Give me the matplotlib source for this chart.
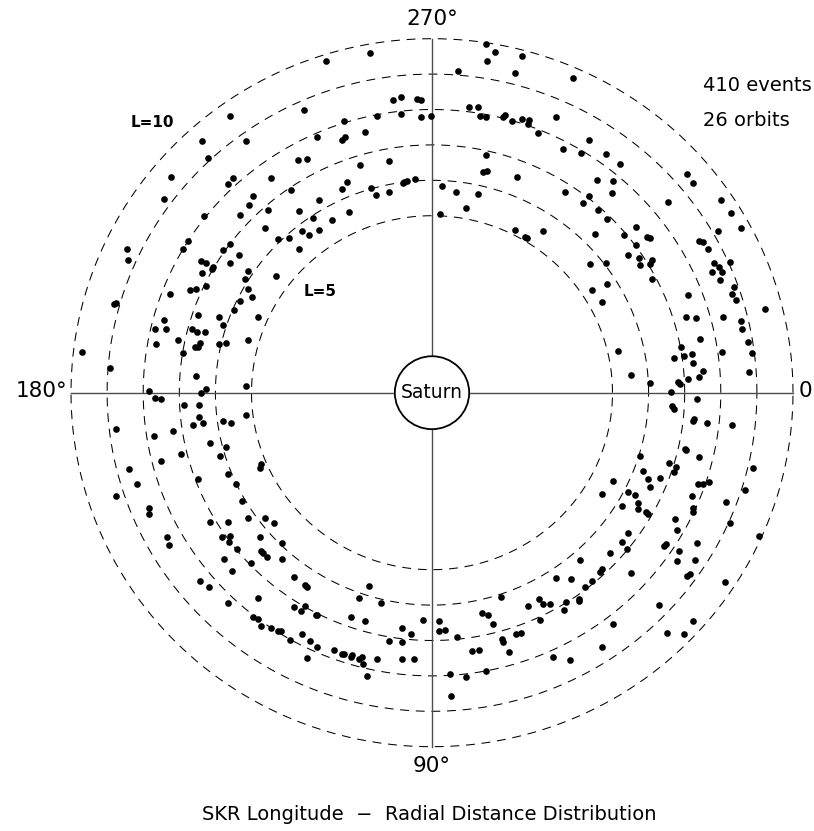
import numpy as np
import matplotlib
matplotlib.use("Agg")
import matplotlib.pyplot as plt
from matplotlib.patches import Circle

# SKR events: longitude in degrees (0 at right, increasing clockwise) and L
lon_top_left = [234.4, 228.1, 234.1, 246.1, 226.9, 240.6, 242.3, 220.2, 226.2, 227.8,
                233.6, 235.7, 216.4, 228.3, 226.3, 228.7, 234.2, 218.3, 223.4, 225.1,
                231.7, 232.7, 225.6, 227.8, 227.7, 205.6, 204.0, 212.3, 210.5, 217.0,
                214.8, 216.2, 210.3, 210.3, 209.7, 210.4, 208.0, 213.2, 214.0]
L_top_left = [9.62, 9.55, 8.79, 8.75, 9.08, 7.55, 7.46, 9.46, 8.17, 8.19,
              7.53, 6.92, 9.22, 7.44, 7.34, 6.88, 6.32, 8.04, 7.31, 6.56,
              5.82, 5.61, 6.08, 5.88, 5.49, 9.38, 9.21, 8.01, 7.99, 7.00,
              7.06, 6.61, 7.40, 7.25, 7.03, 7.03, 7.22, 6.69, 6.15]

lon_top = [252.6, 259.9, 278.7, 280.3, 279.2, 284.7, 274.5, 284.2, 262.6, 264.1,
           267.1, 267.9, 258.9, 263.8, 267.8, 269.7, 252.3, 246.2, 250.7, 251.6,
           255.9, 277.3, 278.9, 279.7, 280.9, 284.2, 284.4, 286.1, 287.9, 289.3,
           289.3, 291.8, 293.8, 259.7, 252.8, 282.5, 282.9, 283.7, 291.0, 248.4,
           246.6, 240.2, 253.7, 254.4, 258.2, 262.6, 263.3, 262.3, 265.5, 272.7,
           276.6, 282.7, 280.3, 272.5, 245.8, 240.5, 236.2, 235.8, 296.6, 300.3,
           301.0, 304.0]
L_top = [9.82, 9.75, 9.97, 9.78, 9.50, 9.82, 9.12, 9.33, 8.33, 8.39,
         8.31, 8.26, 7.97, 7.93, 7.78, 7.81, 8.05, 7.90, 7.57, 7.61,
         7.60, 8.14, 8.17, 7.92, 7.93, 8.03, 8.10, 7.99, 8.13, 8.16,
         8.04, 7.91, 8.51, 6.65, 6.72, 6.89, 6.39, 6.46, 6.54, 6.40,
         6.27, 6.28, 6.02, 5.81, 5.78, 6.01, 6.03, 5.98, 6.05, 5.85,
         5.72, 5.75, 5.31, 5.05, 5.60, 5.61, 5.93, 5.57, 5.14, 5.10,
         5.10, 5.52]

lon_top_right = [293.8, 301.3, 297.8, 301.4, 305.5, 308.8, 307.3, 309.9, 311.6, 303.1,
                 308.1, 308.0, 311.6, 314.7, 318.8, 320.6, 320.6, 325.8, 328.5, 331.4,
                 330.0, 315.1, 320.0, 320.4, 323.6, 324.1, 323.5, 324.4, 326.4, 328.0,
                 328.4, 329.0, 320.2, 322.8, 329.9, 330.4, 332.1, 334.9, 336.0, 337.0,
                 336.3, 335.9]
L_top_right = [9.71, 8.36, 7.78, 7.92, 8.29, 8.30, 7.56, 7.80, 7.53, 6.77,
               7.07, 6.79, 6.91, 6.89, 9.38, 9.35, 8.47, 9.68, 9.70, 9.74,
               9.14, 6.36, 6.95, 7.34, 7.41, 7.45, 7.02, 6.67, 6.88, 6.81,
               7.16, 7.05, 5.68, 6.06, 8.55, 8.63, 8.65, 8.63, 8.70, 8.73,
               8.48, 9.05]

lon_left = [211.7, 217.3, 209.9, 208.5, 206.0, 205.7, 204.2, 203.4, 201.1, 195.9,
            196.1, 203.1, 203.9, 198.6, 200.0, 198.3, 195.5, 193.3, 193.7, 195.1,
            194.8, 195.3, 191.9, 190.2, 192.3, 191.1, 191.3, 189.2, 193.1, 193.7,
            196.2, 186.7, 184.4, 184.1, 182.2, 180.3, 178.9, 178.6, 179.8, 181.0,
            177.0, 176.8, 173.9, 172.1, 172.3, 172.2, 171.3, 172.9, 173.3, 171.0,
            171.4, 167.0, 164.9, 166.0, 165.6, 163.0, 156.9, 155.9, 165.6, 162.5,
            159.4, 157.8, 154.6, 161.6, 149.8, 157.5, 156.4, 149.3, 147.1, 145.1,
            142.5, 139.8]
L_left = [6.09, 5.43, 5.89, 5.68, 5.92, 6.94, 7.17, 7.29, 7.77, 9.15,
          9.11, 5.97, 5.26, 6.85, 6.29, 6.09, 7.71, 7.88, 7.59, 6.90,
          6.73, 6.53, 7.20, 7.76, 6.57, 6.69, 6.60, 7.00, 6.06, 5.87,
          5.30, 9.75, 8.94, 6.56, 5.16, 7.85, 7.67, 7.51, 6.39, 6.25,
          6.89, 6.46, 6.50, 6.68, 6.41, 5.84, 5.63, 5.20, 8.81, 7.80,
          7.27, 6.32, 5.90, 7.17, 7.74, 6.13, 5.15, 5.23, 8.67, 8.56,
          6.93, 6.10, 6.02, 9.23, 6.08, 8.49, 8.57, 7.14, 6.74, 6.20,
          5.82, 5.72]

lon_right = [332.2, 338.3, 327.5, 326.7, 331.5, 338.7, 340.4, 341.5, 342.7, 345.7,
             343.1, 343.9, 345.1, 346.7, 348.1, 348.4, 350.7, 352.8, 347.2, 349.4,
             351.6, 351.5, 351.3, 353.3, 351.9, 356.2, 354.7, 357.4, 357.4, 357.9,
             356.9, 356.5, 355.4, 359.9, 1.4, 3.3, 3.9, 6.4, 5.8, 6.4,
             6.3, 12.7, 13.0, 13.7, 17.3, 16.8, 17.2, 18.4, 20.8, 22.1,
             20.9, 23.7, 26.4, 13.4, 19.2, 18.9, 18.2, 17.6, 31.3, 27.3,
             27.2, 28.6, 31.4, 30.0, 29.6, 29.8, 22.1, 24.3, 25.0, 20.8,
             27.9, 24.0]
L_right = [6.90, 8.58, 5.74, 5.30, 5.36, 7.61, 8.88, 8.77, 8.83, 9.53,
           7.35, 7.62, 8.35, 8.79, 8.79, 7.57, 8.88, 8.93, 5.29, 7.02,
           6.77, 7.05, 7.28, 7.27, 8.12, 8.79, 5.53, 6.04, 6.81, 6.87,
           7.11, 7.41, 7.53, 6.63, 7.34, 6.66, 6.71, 7.28, 7.30, 7.66,
           8.35, 7.19, 7.23, 7.61, 6.03, 6.85, 7.08, 7.07, 6.24, 6.46,
           6.76, 6.61, 5.61, 9.13, 7.80, 7.94, 8.07, 9.11, 5.50, 6.10,
           6.33, 6.50, 6.16, 6.58, 6.82, 6.88, 7.77, 7.93, 7.98, 8.70,
           7.61, 9.05]

lon_bottom_left = [150.9, 149.5, 144.9, 144.1, 143.2, 140.8, 139.4, 134.5, 140.9, 137.7,
                   136.2, 136.7, 136.0, 134.5, 131.4, 140.4, 138.4, 133.6, 129.7, 126.3,
                   122.9, 122.3, 122.3, 120.3, 120.5, 128.1, 127.0, 125.7, 123.9, 122.3,
                   121.9, 119.4, 117.9, 115.6, 114.8]
L_bottom_left = [8.41, 8.45, 7.10, 6.91, 7.03, 6.98, 6.28, 5.94, 7.43, 7.50,
                 6.96, 6.52, 6.52, 6.51, 6.27, 8.34, 8.27, 8.21, 7.55, 6.46,
                 6.47, 6.50, 7.16, 6.99, 7.16, 8.05, 8.01, 8.10, 8.01, 7.96,
                 7.93, 8.03, 7.70, 7.79, 8.27]

lon_bottom = [107.7, 109.3, 103.3, 117.2, 116.8, 109.4, 106.1, 113.9, 110.5, 108.7,
              108.2, 106.8, 106.6, 105.0, 104.5, 104.0, 102.7, 101.4, 99.7, 97.1,
              94.9, 96.7, 96.3, 93.7, 92.3, 88.2, 88.3, 86.9, 84.2, 86.4,
              83.4, 86.5, 81.4, 79.8, 79.2, 77.5, 76.2, 75.5, 74.4, 74.5,
              73.8, 71.2, 70.0, 71.7, 66.1, 63.0, 62.7, 61.2, 65.0, 56.7,
              65.9]
L_bottom = [5.73, 6.14, 6.11, 7.06, 7.04, 6.72, 6.71, 7.86, 7.77, 7.78,
            7.77, 7.81, 7.73, 7.79, 7.71, 7.90, 8.20, 7.68, 7.12, 6.70,
            6.84, 7.08, 7.58, 7.55, 6.44, 6.45, 6.73, 6.71, 6.93, 7.97,
            8.09, 8.58, 7.38, 7.39, 8.00, 6.38, 6.46, 6.75, 7.23, 7.32,
            7.64, 7.21, 7.22, 6.07, 6.58, 6.53, 6.73, 6.80, 7.09, 6.27,
            8.19]

lon_bottom_right = [36.0, 38.7, 39.3, 42.6, 49.1, 46.7, 47.4, 42.7, 53.9, 50.2,
                    52.2, 55.1, 55.3, 57.9, 59.3, 52.5, 56.7, 63.1, 29.8, 34.0,
                    33.5, 33.1, 30.1, 35.1, 33.0, 36.2, 35.6, 33.4, 24.1, 43.7,
                    41.7, 46.2, 44.3]
L_bottom_right = [6.72, 6.75, 6.98, 6.70, 6.26, 6.85, 6.89, 7.51, 6.52, 6.93,
                  6.93, 7.11, 7.17, 6.99, 7.15, 8.25, 8.60, 8.48, 7.82, 7.76,
                  7.76, 8.18, 8.47, 8.29, 8.69, 8.75, 8.79, 9.71, 9.92, 8.69,
                  9.68, 9.41, 9.76]

ring_levels = [5, 6, 7, 8, 9, 10]
n_events = 410
n_orbits = 26

lon = np.radians(np.concatenate([lon_top_left, lon_top, lon_top_right, lon_left,
                                 lon_right, lon_bottom_left, lon_bottom, lon_bottom_right]))
L = np.concatenate([L_top_left, L_top, L_top_right, L_left,
                    L_right, L_bottom_left, L_bottom, L_bottom_right])

W, H = 814, 831
fig = plt.figure(figsize=(W / 100, H / 100), dpi=100)
ax = fig.add_axes([0, 0, 1, 1])
# slightly squashed vertical scale, like the original device
ax.set_xlim(-11.967, 10.582)
ax.set_ylim(-12.381, 11.093)
ax.axis('off')


def fx(px):
    return px / W


def fy(py):
    return 1 - py / H


# dashed L-shell circles
phi = np.linspace(0, 2 * np.pi, 1441)
for r in ring_levels:
    ax.plot(r * np.cos(phi), r * np.sin(phi), color='black', lw=0.75,
            linestyle=(0, (8.5, 6.5)), zorder=1)

# axes through the centre
rmax = ring_levels[-1]
ax.plot([-rmax, rmax], [0, 0], color='#4d4d4d', lw=1.0, zorder=2)
ax.plot([0, 0], [-rmax, rmax], color='#4d4d4d', lw=1.0, zorder=2)

# Saturn
ax.add_patch(Circle((0, 0), 1.03, facecolor='white', edgecolor='black', lw=1.3, zorder=3))
ax.text(0, 0, 'Saturn', ha='center', va='center', fontsize=13.5, zorder=4)

# events (longitude increases clockwise, 90 at bottom)
ax.plot(L * np.cos(lon), -L * np.sin(lon), 'o', color='black', ms=4.8, mew=0, zorder=5)

fs = 15.5
fig.text(fx(432), fy(19), '270°', ha='center', va='center', fontsize=fs)
fig.text(fx(432), fy(766), '90°', ha='center', va='center', fontsize=fs)
fig.text(fx(67), fy(391), '180°', ha='right', va='center', fontsize=fs)
fig.text(fx(799), fy(391), '0', ha='left', va='center', fontsize=fs)

fig.text(fx(152), fy(122.5), 'L=10', ha='center', va='center', fontsize=11, fontweight='bold')
fig.text(fx(320), fy(291), 'L=5', ha='center', va='center', fontsize=11, fontweight='bold')

fig.text(fx(703), fy(85.5), f'{n_events} events', ha='left', va='center', fontsize=14)
fig.text(fx(703), fy(120.5), f'{n_orbits} orbits', ha='left', va='center', fontsize=14)

fig.text(fx(429), fy(814), 'SKR Longitude  \u2212  Radial Distance Distribution',
         ha='center', va='center', fontsize=14)

fig.savefig('out.png', dpi=100, facecolor='white')
